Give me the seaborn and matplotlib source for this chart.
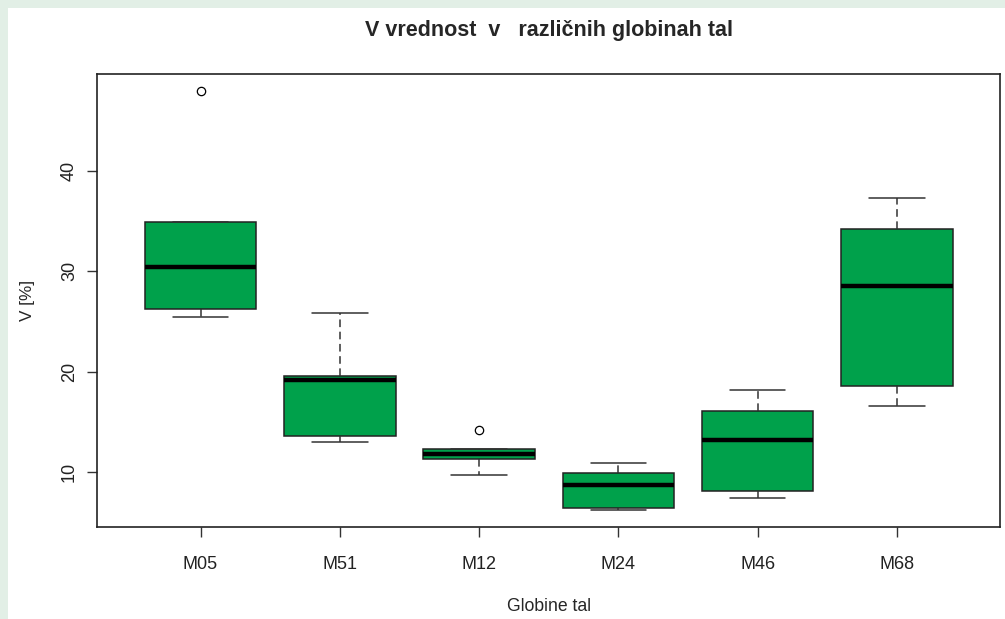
import pandas as pd
import numpy as np
import seaborn as sns
import matplotlib.pyplot as plt
from matplotlib.patches import Rectangle

# values (5 per depth: low, Q1, median, Q3, high / outlier)
depths = ['M05', 'M51', 'M12', 'M24', 'M46', 'M68']
m05 = [25.45, 26.2, 30.45, 34.9, 48.0]
m51 = [12.98, 13.55, 19.2, 19.53, 25.89]
m12 = [9.7, 11.25, 11.8, 12.3, 14.2]
m24 = [6.19, 6.46, 8.75, 9.92, 10.85]
m46 = [7.39, 8.15, 13.21, 16.07, 18.13]
m68 = [16.54, 18.56, 28.51, 34.2, 37.33]

df = pd.DataFrame({
    'Globine tal': np.repeat(depths, 5),
    'V': m05 + m51 + m12 + m24 + m46 + m68,
})

sns.set_style('white')
plt.rcParams['font.family'] = ['Liberation Sans', 'DejaVu Sans']

fig = plt.figure(figsize=(10.05, 6.19), dpi=100)
fig.patch.set_facecolor('#e2efe6')
# white panel inside the light green frame
fig.patches.append(Rectangle((8 / 1005, 0), 1, 1 - 8 / 619, transform=fig.transFigure,
                             facecolor='white', edgecolor='none', zorder=-10))
ax = fig.add_axes([0.097, 0.1486, 0.898, 0.7319])
ax.set_zorder(5)

sns.boxplot(x='Globine tal', y='V', data=df, order=depths, color='#00a14b', saturation=1,
            width=0.8, whis=1.5, linecolor='#222222', linewidth=1.1, ax=ax,
            whiskerprops=dict(linestyle=(0, (5, 3)), color='#333333'),
            capprops=dict(color='#333333', linestyle='-'),
            medianprops=dict(color='black', linewidth=3.2),
            flierprops=dict(marker='o', markersize=6, markerfacecolor='none',
                            markeredgecolor='black', markeredgewidth=0.9))

lo, hi = df['V'].min(), df['V'].max()
pad = (hi - lo) * 0.04
ax.set_ylim(lo - pad, hi + pad)
ax.set_xlim(-0.74, 5.74)
ax.set_yticks([10, 20, 30, 40])
ax.set_yticklabels(['10', '20', '30', '40'], rotation=90, va='center')
ax.tick_params(axis='both', direction='out', length=7, width=1, color='#333333',
               bottom=True, left=True, labelsize=13, labelcolor='#222222')
ax.tick_params(axis='x', pad=14)
ax.tick_params(axis='y', pad=7)
for s in ax.spines.values():
    s.set_visible(True)
    s.set_color('#222222')
    s.set_linewidth(1.2)

ax.set_title('V vrednost  v   različnih globinah tal', fontsize=15.5, fontweight='bold', pad=27)
ax.set_xlabel('Globine tal', fontsize=12.7, labelpad=18)
ax.set_ylabel('V [%]', fontsize=12.3, labelpad=19)

plt.savefig('out.png', dpi=100, facecolor=fig.get_facecolor())
